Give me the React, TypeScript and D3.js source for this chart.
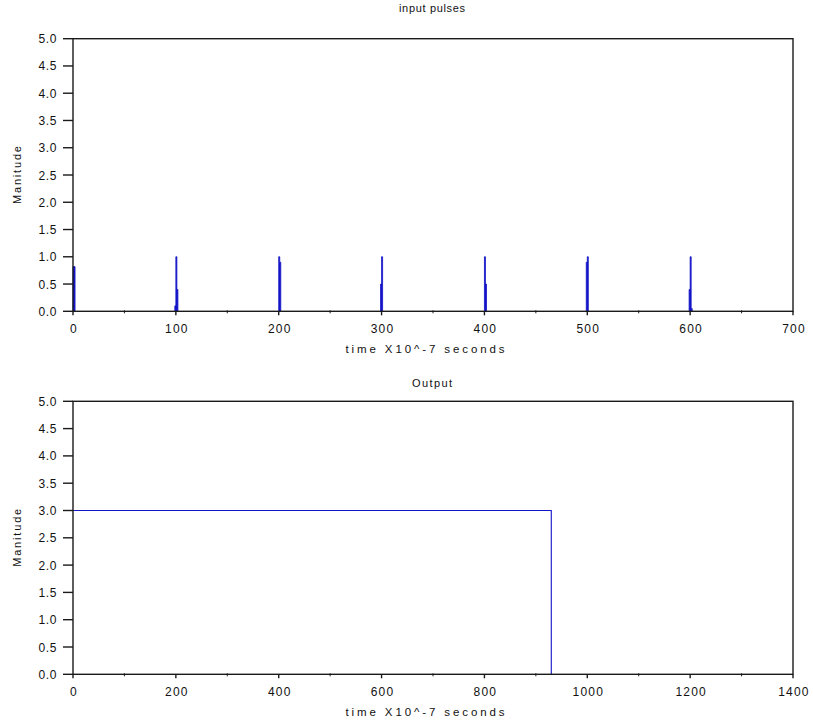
import React from "react";
import * as d3 from "d3";

// ---------- data ----------
const pulseTimes = [0, 100, 200, 300, 400, 500, 600];
// sample offsets (time units) and magnitudes around each pulse
const pulseOffsets = [
  [0, 1, 2],
  [-1, 0, 1, 2],
  [0, 1, 2],
  [-1, 0, 1],
  [0, 1, 2],
  [-1, 0, 1],
  [-1, 0, 1, 2],
];
const pulseValues = [
  [0.82, 0.82, 0],
  [0.1, 1.0, 0.4, 0],
  [1.0, 0.9, 0],
  [0.5, 1.0, 0],
  [1.0, 0.5, 0],
  [0.9, 1.0, 0],
  [0.4, 1.0, 0.05, 0],
];
const outputTimes = [0, 930, 930, 1400];
const outputValues = [3, 3, 0, 0];

const yTicks = [0, 0.5, 1, 1.5, 2, 2.5, 3, 3.5, 4, 4.5, 5];
const topXTicks = [0, 100, 200, 300, 400, 500, 600, 700];
const bottomXTicks = [0, 200, 400, 600, 800, 1000, 1200, 1400];

const titles = ["input pulses", "Output"];
const xLabel = "time X10^-7 seconds";
const yLabel = "Manitude";

// ---------- layout ----------
const W = 813;
const H = 724;
const left = 73;
const right = 793;
const panels = [
  { top: 38.7, bottom: 311.3, xMax: 700, ticks: topXTicks, titleY: 12 },
  { top: 401.3, bottom: 674.3, xMax: 1400, ticks: bottomXTicks, titleY: 387 },
];
const FONT = "'Liberation Sans', Arial, Helvetica, sans-serif";
const AXIS = "#1a1a1a";
const TEXT = "#111";
const LINE = "#1414c8";

function Panel({ idx }: { idx: number }) {
  const p = panels[idx];
  const x = d3.scaleLinear().domain([0, p.xMax]).range([left, right]);
  const y = d3.scaleLinear().domain([0, 5]).range([p.bottom, p.top]);
  const stepArea = d3
    .area<[number, number]>()
    .x((d) => x(d[0]))
    .y0(y(0))
    .y1((d) => y(d[1]))
    .curve(d3.curveStepAfter);
  const plainLine = d3
    .line<[number, number]>()
    .x((d) => x(d[0]))
    .y((d) => y(d[1]));
  const step = p.ticks[1] - p.ticks[0];
  const minor = p.ticks.slice(0, -1).map((t) => t + step / 2);
  const cx = (left + right) / 2;

  const areas: string[] = [];
  const lines: string[] = [];
  if (idx === 0) {
    pulseTimes.forEach((t, i) => {
      const pts: [number, number][] = pulseOffsets[i].map(
        (o, j) => [t + o, pulseValues[i][j]] as [number, number]
      );
      areas.push(stepArea(pts) || "");
    });
  } else {
    const pts = outputTimes
      .slice(0, 3)
      .map((t, i) => [t, outputValues[i]] as [number, number]);
    lines.push(plainLine(pts) || "");
  }

  return (
    <g>
      {areas.map((d, i) => (
        <path key={"a" + i} d={d} fill={LINE} stroke={LINE} strokeWidth={0.8} />
      ))}
      {lines.map((d, i) => (
        <path key={"l" + i} d={d} fill="none" stroke={LINE} strokeWidth={1.1} />
      ))}
      {/* box */}
      <rect
        x={left}
        y={p.top}
        width={right - left}
        height={p.bottom - p.top}
        fill="none"
        stroke={AXIS}
        strokeWidth={1.4}
      />
      {/* y ticks */}
      {yTicks.map((v) => (
        <g key={"y" + v}>
          <line x1={left - 10} x2={left} y1={y(v)} y2={y(v)} stroke={AXIS} strokeWidth={1.4} />
          <text
            x={57}
            y={y(v) + 4.5}
            textAnchor="end"
            fontFamily={FONT}
            fontSize={12}
            letterSpacing={0.6}
            fill={TEXT}
          >
            {d3.format(".1f")(v)}
          </text>
        </g>
      ))}
      {/* x ticks */}
      {p.ticks.map((v) => (
        <g key={"x" + v}>
          <line x1={x(v)} x2={x(v)} y1={p.bottom} y2={p.bottom + 4} stroke={AXIS} strokeWidth={1.4} />
          <text
            x={x(v) + 1}
            y={p.bottom + 22}
            textAnchor="middle"
            fontFamily={FONT}
            fontSize={12}
            letterSpacing={1.2}
            fill={TEXT}
          >
            {String(v)}
          </text>
        </g>
      ))}
      {minor.map((v) => (
        <line key={"m" + v} x1={x(v)} x2={x(v)} y1={p.bottom - 1} y2={p.bottom + 2} stroke={AXIS} strokeWidth={1} />
      ))}
      {/* title */}
      <text
        x={432}
        y={p.titleY}
        textAnchor="middle"
        fontFamily={FONT}
        fontSize={11}
        textLength={idx === 0 ? 66 : 40}
        lengthAdjust="spacing"
        fill={TEXT}
      >
        {titles[idx]}
      </text>
      {/* x label */}
      <text
        x={cx - 8}
        y={p.bottom + 42}
        textAnchor="middle"
        fontFamily={FONT}
        fontSize={11.5}
        textLength={159}
        lengthAdjust="spacing"
        fill={TEXT}
      >
        {xLabel}
      </text>
      {/* y label */}
      <text
        transform={`translate(21, ${(p.top + p.bottom) / 2}) rotate(-90)`}
        textAnchor="middle"
        fontFamily={FONT}
        fontSize={11}
        textLength={58}
        lengthAdjust="spacing"
        fill={TEXT}
      >
        {yLabel}
      </text>
    </g>
  );
}

export default function App() {
  return (
    <svg
      width={W}
      height={H}
      viewBox={`0 0 ${W} ${H}`}
      style={{ position: "absolute", left: 0, top: 0, background: "#fff" }}
    >
      <rect x={0} y={0} width={W} height={H} fill="#fff" />
      <Panel idx={0} />
      <Panel idx={1} />
    </svg>
  );
}
